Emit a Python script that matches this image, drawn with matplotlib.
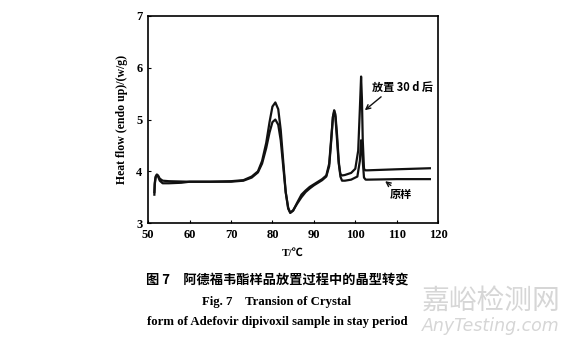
import matplotlib.pyplot as plt

plt.rcParams['font.family'] = ['Liberation Serif', 'Noto Sans CJK SC']

# 原样 (original sample)
x_orig = [51.5, 51.6, 51.8, 52.1, 52.4, 52.8, 53.5, 55, 58, 60, 65, 70, 73, 75, 76.5, 77.5,
          78.5, 79.3, 80, 80.7, 81.4, 82, 82.6, 83.2, 83.8, 84.3, 85, 86, 87, 88, 89, 90,
          91, 92, 93, 93.7, 94.2, 94.6, 94.9, 95.2, 95.6, 96, 96.4, 96.8, 97.5, 99, 100.5,
          101.1, 101.4, 101.6, 101.8, 102.1, 102.5, 103, 110, 118]
y_orig = [3.55, 3.75, 3.88, 3.93, 3.9, 3.82, 3.77, 3.77, 3.78, 3.8, 3.8, 3.8, 3.82, 3.88,
          3.98, 4.15, 4.45, 4.75, 4.95, 5.0, 4.9, 4.6, 4.1, 3.6, 3.3, 3.2, 3.25, 3.38, 3.5,
          3.6, 3.67, 3.73, 3.78, 3.83, 3.9, 4.1, 4.6, 5.05, 5.18, 5.1, 4.7, 4.2, 3.9, 3.82,
          3.82, 3.84, 3.9, 4.2, 4.6, 4.5, 4.2, 3.88, 3.84, 3.84, 3.85, 3.85]

# 放置 30 d 后 (after 30 days)
x_30d = [51.5, 51.6, 51.8, 52.1, 52.4, 52.8, 53.5, 55, 60, 65, 70, 73, 75, 76.5, 77.5, 78.5,
         79.3, 80, 80.7, 81.4, 82, 82.6, 83.2, 83.8, 84.3, 85, 86, 87, 88, 89, 90, 91, 92,
         93, 93.7, 94.2, 94.6, 94.9, 95.2, 95.6, 96, 96.4, 96.8, 97.5, 99, 100, 100.7,
         101.1, 101.4, 101.6, 101.8, 102.1, 102.4, 103, 110, 118]
y_30d = [3.6, 3.78, 3.9, 3.94, 3.92, 3.86, 3.82, 3.81, 3.8, 3.8, 3.81, 3.83, 3.9, 4.0, 4.2,
         4.55, 4.95, 5.25, 5.33, 5.2, 4.8, 4.2, 3.6, 3.28, 3.2, 3.24, 3.4, 3.55, 3.63, 3.7,
         3.75, 3.8, 3.85, 3.92, 4.15, 4.65, 5.05, 5.15, 5.05, 4.6, 4.15, 3.95, 3.92, 3.93,
         3.97, 4.05, 4.4, 5.2, 5.83, 5.4, 4.6, 4.05, 4.02, 4.02, 4.04, 4.06]

xticks = [50, 60, 70, 80, 90, 100, 110, 120]
yticks = [3, 4, 5, 6, 7]

fig = plt.figure(figsize=(5.72, 3.46), dpi=100)
ax = fig.add_axes([0.259, 0.355, 0.507, 0.599])

ax.plot(x_orig, y_orig, color='#111111', lw=1.6)
ax.plot(x_30d, y_30d, color='#111111', lw=1.6)

ax.set_xlim(50, 120)
ax.set_ylim(3, 7)
ax.set_xticks(xticks)
ax.set_yticks(yticks)
ax.tick_params(direction='in', length=2.5, width=0.8, labelsize=9, pad=4)
for lab in ax.get_xticklabels() + ax.get_yticklabels():
    lab.set_fontweight('bold')
for s in ax.spines.values():
    s.set_linewidth(1.2)

ax.set_ylabel('Heat flow (endo up)/(w/g)', fontsize=8.5, fontweight='bold', labelpad=6)
ax.set_xlabel('T/℃', fontsize=8, fontweight='bold', labelpad=6,
              family=['Liberation Serif', 'Noto Sans CJK SC'])

ax.annotate('放置 30 d 后', xy=(102.3, 5.18), xytext=(104.1, 5.55),
            fontsize=8, fontweight='bold', family=['Noto Sans CJK SC', 'Liberation Serif'],
            arrowprops=dict(arrowstyle='->', color='#111111', lw=1.0,
                            shrinkA=0, shrinkB=0, relpos=(0.2, 0.0)))
ax.annotate('原样', xy=(107.2, 3.81), xytext=(108.4, 3.48),
            fontsize=8, fontweight='bold', family=['Noto Sans CJK SC'],
            arrowprops=dict(arrowstyle='->', color='#111111', lw=1.0,
                            shrinkA=0, shrinkB=0, relpos=(0.2, 1.0)))

fig.text(0.484, 0.191, '图 7　阿德福韦酯样品放置过程中的晶型转变', ha='center', va='center',
         fontsize=9.5, fontweight='bold', family=['Noto Sans CJK SC'])
fig.text(0.484, 0.127, 'Fig. 7    Transion of Crystal', ha='center', va='center',
         fontsize=9.2, fontweight='bold')
fig.text(0.484, 0.069, 'form of Adefovir dipivoxil sample in stay period', ha='center',
         va='center', fontsize=9.2, fontweight='bold')

fig.text(0.858, 0.13, '嘉峪检测网', ha='center', va='center', fontsize=20,
         color='#d6d6d6', family=['Noto Sans CJK SC'])
fig.text(0.858, 0.058, 'AnyTesting.com', ha='center', va='center', fontsize=12.5,
         color='#d6d6d6', style='italic', family=['DejaVu Sans'])

fig.savefig('out.png', dpi=100)
